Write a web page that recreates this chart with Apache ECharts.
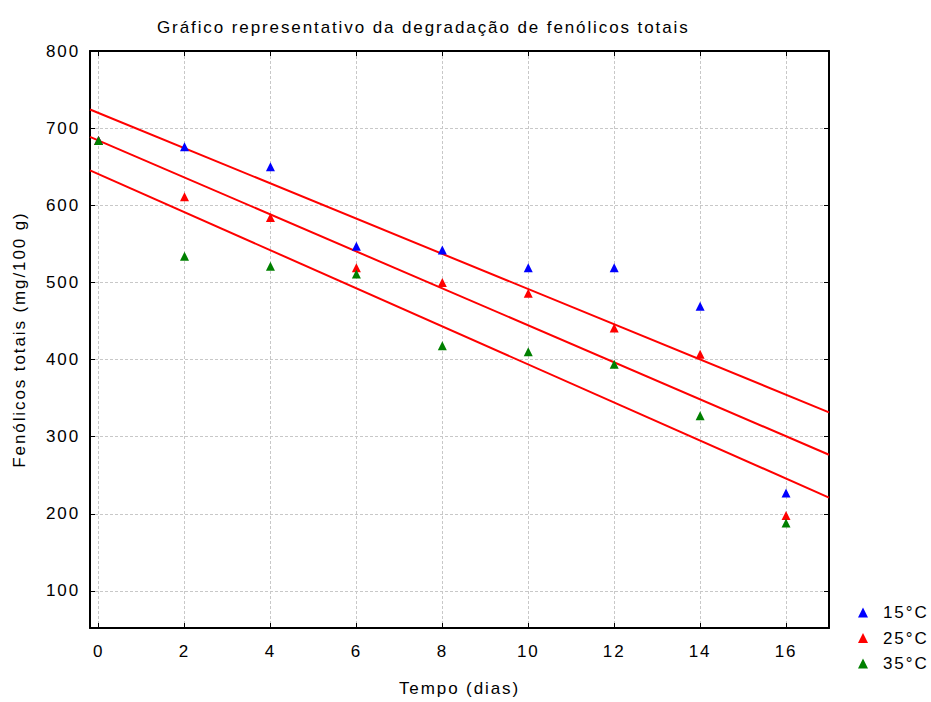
<!DOCTYPE html>
<html>
<head>
<meta charset="utf-8">
<script src="https://cdn.jsdelivr.net/npm/echarts@6/dist/echarts.min.js"></script>
<style>
  /* the original plot software spreads its letters a bit */
  #chart svg text { letter-spacing: 1.9px; }
</style>
</head>
<body style="margin: 0; padding: 0; background: #fff;">
<div id="chart" style="width: 931px; height: 702px;"></div>
<script>
const days = [0, 2, 4, 6, 8, 10, 12, 14, 16]
const t15 = [684, 676, 650, 547, 542, 519, 519, 469, 227]
const t25 = [684, 611, 584, 519, 500, 486, 441, 407, 198]
const t35 = [684, 534, 521, 511, 418, 410, 394, 327, 188]
const seriesNames = ['15°C', '25°C', '35°C']
const colors = ['#0000ff', '#ff0000', '#008000']

const xMin = -0.2, xMax = 17
const yMin = 52, yMax = 800
const font = '"Liberation Sans", Arial, sans-serif'

// least squares fit, drawn across the whole x range
function fitLine(xs, ys) {
  const n = xs.length
  const mx = xs.reduce((a, b) => a + b, 0) / n
  const my = ys.reduce((a, b) => a + b, 0) / n
  let sxy = 0, sxx = 0
  for (let i = 0; i < n; i++) {
    sxy += (xs[i] - mx) * (ys[i] - my)
    sxx += (xs[i] - mx) * (xs[i] - mx)
  }
  const b = sxy / sxx
  const a = my - b * mx
  return [[xMin, a + b * xMin], [xMax, a + b * xMax]]
}

const groups = [t15, t25, t35]
const series = []
groups.forEach((vals) => {
  series.push({
    type: 'line',
    data: fitLine(days, vals),
    showSymbol: false,
    silent: true,
    lineStyle: { color: '#ff0000', width: 2 },
    z: 2
  })
})
groups.forEach((vals, i) => {
  series.push({
    name: seriesNames[i],
    type: 'scatter',
    data: days.map((d, j) => [d, vals[j]]),
    symbol: 'triangle',
    symbolSize: 9,
    itemStyle: { color: colors[i], opacity: 1 },
    z: 3 + i
  })
})

const axisCommon = {
  axisLine: { show: true, onZero: false, lineStyle: { color: '#000', width: 2 } },
  axisTick: { show: true, inside: true, length: 5, lineStyle: { color: '#000', width: 1 } }
}
const gridLine = { show: true, lineStyle: { color: '#c8c8c8', type: [3, 2] } }

const chart = echarts.init(document.getElementById('chart'), null, { renderer: 'svg' })
chart.setOption({
  animation: false,
  title: {
    text: 'Gráfico representativo da degradação de fenólicos totais',
    left: 152,
    top: 14,
    textStyle: { fontFamily: font, fontSize: 17, fontWeight: 'normal', color: '#000' }
  },
  legend: {
    left: 853,
    top: 599,
    orient: 'vertical',
    itemWidth: 10,
    itemHeight: 10,
    itemGap: 8.5,
    icon: 'triangle',
    data: seriesNames,
    textStyle: { fontFamily: font, fontSize: 17, color: '#000', padding: [0, 0, 0, 10] }
  },
  grid: { left: 90, right: 102, top: 51, bottom: 73 },
  xAxis: [
    Object.assign({
      type: 'value', min: xMin, max: xMax, splitNumber: 8,
      name: 'Tempo (dias)', nameLocation: 'middle', nameGap: 52,
      nameTextStyle: { fontFamily: font, fontSize: 17, color: '#000' },
      axisLabel: { fontFamily: font, fontSize: 17, color: '#000', margin: 15,
        showMinLabel: false, showMaxLabel: false },
      splitLine: gridLine
    }, axisCommon),
    Object.assign({
      type: 'value', min: xMin, max: xMax, splitNumber: 8, position: 'top',
      axisLabel: { show: false }, splitLine: { show: false }
    }, axisCommon)
  ],
  yAxis: [
    Object.assign({
      type: 'value', min: yMin, max: yMax, splitNumber: 7,
      name: 'Fenólicos totais (mg/100 g)', nameLocation: 'middle', nameGap: 62,
      nameTextStyle: { fontFamily: font, fontSize: 17, color: '#000' },
      axisLabel: { fontFamily: font, fontSize: 17, color: '#000', margin: 10,
        showMinLabel: false },
      splitLine: gridLine
    }, axisCommon),
    Object.assign({
      type: 'value', min: yMin, max: yMax, splitNumber: 7, position: 'right',
      axisLabel: { show: false }, splitLine: { show: false }
    }, axisCommon)
  ],
  series: series
})
</script>
</body>
</html>
